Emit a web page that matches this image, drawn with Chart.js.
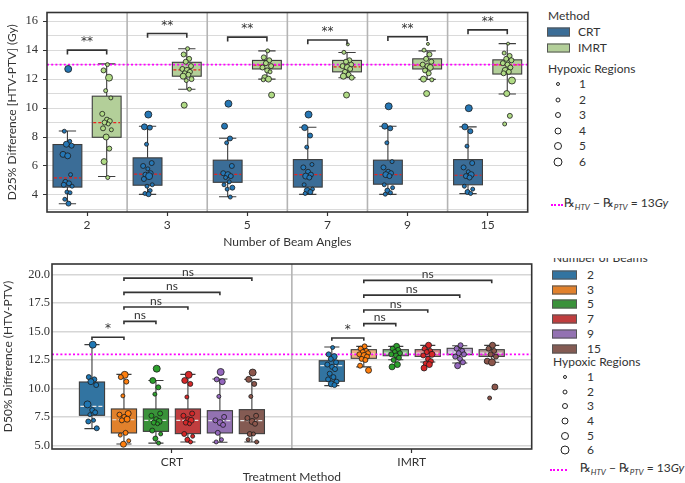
<!DOCTYPE html>
<html><head><meta charset="utf-8">
<script src="https://cdn.jsdelivr.net/npm/chart.js@4.4.1/dist/chart.umd.min.js"></script>
<style>
body{margin:0;background:#fff;width:685px;height:483px;overflow:hidden;position:relative;font-family:Lato,"DejaVu Sans",sans-serif;color:#333}
canvas{position:absolute}
.lg{position:absolute;font-size:12px;line-height:14px;white-space:nowrap;color:#333;transform:translateY(-50%)}
.patch{position:absolute;border:1px solid #555;box-sizing:border-box;transform:translateY(-50%)}
.dot{position:absolute;border:1.2px solid #222;border-radius:50%;box-sizing:border-box;background:#fff;transform:translate(-50%,-50%)}
.dl{position:absolute;height:0;border-top:2px dotted #ff00ff;transform:translateY(-50%)}
.clip{position:absolute;overflow:hidden}
</style></head>
<body>
<canvas id="c1" width="532" height="250" style="left:0;top:0"></canvas>
<canvas id="c2" width="536" height="233" style="left:0;top:250px"></canvas>
<div id="legend"></div>
<script>
// ---------- categories ----------
const BEAMS = ['2','3','5','7','9','15'];
const METHODS = ['CRT','IMRT'];
const HYPOXIC_LEVELS = [1,2,3,4,5,6];
const THRESHOLD_GY = 13;

// ---------- tick values ----------
const D25_GRID_TICKS = [3,4,5,6,7,8,9,10,11,12,13,14,15,16];
const D25_LABEL_TICKS = [4,6,8,10,12,14,16];
const D50_TICKS = [5,7.5,10,12.5,15,17.5,20];

// ---------- Panel A: D25% difference, box stats [low whisker, Q1, median, Q3, high whisker] ----------
const D25_CRT_BOX = [
  [3.39,4.54,5.18,7.48,8.41],
  [4.04,4.67,5.44,6.56,8.74],
  [3.87,4.87,5.42,6.40,7.91],
  [4.04,4.54,5.40,6.44,8.67],
  [4.04,4.74,5.40,6.40,8.74],
  [4.09,4.70,5.36,6.44,8.70]];
const D25_IMRT_BOX = [
  [5.27,7.98,9.00,10.82,13.05],
  [11.30,12.20,12.64,13.16,14.10],
  [12.00,12.70,12.96,13.29,13.95],
  [12.09,12.50,12.85,13.29,13.84],
  [11.98,12.70,12.96,13.40,13.95],
  [10.97,12.35,12.98,13.33,14.45]];
const D25_CRT_PTS = [
  [12.7,8.4,7.7,7.5,7.4,6.8,6.7,5.4,4.9,4.8,4.7,4.6,4.2,4.15,3.7,3.4],
  [9.55,8.7,8.65,7.5,6.2,6.0,5.8,5.5,5.4,5.3,5.1,4.7,4.6,4.3,4.1,4.05],
  [10.3,8.75,7.9,7.6,6.0,5.5,5.4,5.3,5.2,4.9,4.7,4.5,4.4,3.85],
  [9.55,8.65,8.1,7.3,6.1,5.9,5.6,5.4,5.3,5.2,4.7,4.4,4.3,4.2,4.1],
  [10.12,8.75,8.6,7.6,6.3,5.9,5.6,5.5,5.4,5.3,4.7,4.5,4.3,4.15,4.05],
  [9.99,8.7,8.4,7.37,6.2,5.9,5.6,5.4,5.3,5.2,4.6,4.4,4.2,4.1]];
const D25_CRT_HYP = [
  [5,2,2,4,3,4,4,2,3,3,3,2,2,2,2,3],
  [5,4,3,2,3,3,2,3,3,5,3,2,2,2,2,3],
  [5,4,3,2,3,3,4,3,2,2,2,3,2,2],
  [5,4,3,2,2,3,3,3,4,3,2,2,4,3,2],
  [5,4,3,2,2,3,3,3,4,3,2,2,3,2,2],
  [5,4,3,2,3,3,2,4,3,3,2,2,3,2]];
const D25_IMRT_PTS = [
  [13.0,12.6,12.1,11.2,10.7,9.6,9.2,9.1,9.0,8.9,8.6,8.5,8.0,7.2,6.3,5.2],
  [14.1,13.7,13.4,13.2,12.9,12.7,12.6,12.5,12.4,12.3,12.2,12.0,11.9,11.3,10.2],
  [13.95,13.5,13.3,13.1,12.9,12.8,12.6,12.5,12.1,12.0,11.95,10.9],
  [14.4,13.85,13.3,13.2,13.0,12.9,12.8,12.7,12.5,12.3,12.2,12.1,10.9],
  [14.43,14.0,13.7,13.4,13.2,13.0,12.9,12.8,12.6,12.4,12.0,11.95,11.0],
  [14.45,13.8,13.6,13.4,13.3,13.1,13.0,12.8,12.6,12.5,12.4,11.9,11.0,9.46,8.9]];
const D25_IMRT_HYP = [
  [2,3,5,2,2,3,3,3,3,2,3,2,4,3,4,2],
  [2,3,3,3,3,3,4,3,3,3,4,3,2,2,4],
  [2,3,3,3,3,3,3,2,4,4,2,4],
  [1,2,3,3,3,3,4,3,3,3,4,3,4],
  [1,2,3,3,3,3,3,4,3,3,4,2,4],
  [1,2,3,3,3,3,3,3,4,3,3,5,4,3,2]];
const D25_SIG = ['**','**','**','**','**','**'];
const D25_SIG_Y = [14.0,15.15,14.9,14.7,14.93,15.4];

// ---------- Panel B: D50% difference by number of beams ----------
const D50_CRT_BOX = [
  [6.47,7.64,8.43,10.57,13.85],
  [5.12,6.09,7.25,8.20,11.24],
  [5.20,6.23,7.20,8.20,10.70],
  [5.30,6.03,7.20,8.20,11.24],
  [5.27,6.09,7.17,8.05,10.83],
  [5.30,6.03,7.17,8.14,10.80]];
const D50_IMRT_BOX = [
  [10.25,10.63,12.00,12.44,13.64],
  [11.90,12.65,13.05,13.41,13.70],
  [12.53,12.88,13.10,13.41,13.70],
  [12.33,12.82,13.10,13.41,13.79],
  [12.24,12.97,13.20,13.53,13.76],
  [12.30,12.82,13.10,13.41,13.79]];
const D50_CRT_PTS = [
  [13.85,11.0,10.8,10.6,10.3,8.6,8.1,7.9,7.7,7.2,7.1,6.5],
  [11.2,11.0,10.6,9.35,7.8,7.7,7.5,7.3,7.2,6.1,5.9,5.4,5.1],
  [11.74,10.7,10.1,9.5,7.8,7.6,7.3,7.1,7.0,6.9,6.3,6.0,5.6,5.2],
  [11.2,10.7,10.4,9.25,7.8,7.6,7.3,7.2,7.0,6.9,6.0,5.8,5.5,5.3],
  [11.45,10.8,10.6,9.3,7.5,7.2,7.0,6.8,6.1,5.5,5.3],
  [11.4,10.8,10.4,9.3,7.6,7.4,7.1,6.9,6.0,6.0,5.5,5.3]];
const D50_CRT_HYP = [
  [5,3,3,4,3,5,3,3,2,2,3,3],
  [5,3,3,2,4,3,3,4,3,3,2,2,4],
  [5,4,3,2,3,3,3,4,3,2,3,2,3,2],
  [5,4,3,2,3,3,3,4,3,2,3,2,3,2],
  [5,3,4,2,3,3,4,3,3,2,2],
  [5,4,3,2,3,3,4,3,3,2,2,2]];
const D50_IMRT_PTS = [
  [13.6,13.0,12.8,12.6,12.3,12.1,11.9,11.7,11.3,11.0,10.8,10.6,10.4,10.3],
  [13.7,13.5,13.3,13.2,13.1,13.0,12.9,12.8,12.6,12.5,12.0,11.6],
  [13.7,13.5,13.4,13.2,13.1,13.0,12.9,12.7,12.5,12.1,11.9],
  [13.8,13.5,13.3,13.2,13.0,12.9,12.6,12.4,12.2,12.1,11.8],
  [13.8,13.5,13.3,13.1,13.0,12.8,12.6,12.3,12.0],
  [13.8,13.5,13.3,13.0,12.8,12.4,12.3,10.13,9.16]];
const D50_IMRT_HYP = [
  [2,3,4,3,3,3,3,3,3,3,3,3,4,3],
  [3,3,3,3,3,3,4,3,3,3,3,4],
  [4,3,3,3,3,3,3,3,3,4,4],
  [4,3,3,3,4,3,3,3,3,4,4],
  [3,3,3,3,3,3,3,3,4],
  [4,3,3,3,3,4,5,4,2]];
const D50_PAIRS = [[0,1],[1,2],[1,3],[1,4],[1,5]];
const D50_SIG = ['*','ns','ns','ns','ns'];
const D50_CRT_SIG_Y = [14.5,15.9,17.16,18.45,19.7];
const D50_IMRT_SIG_Y = [14.44,15.7,16.9,18.2,19.5];

// ---------- styles ----------
const TOP_BOX_COLORS = ['#3b6d97','#b3cf99'];
const TOP_PT_COLORS = ['#2677b5','#b0db85'];
const BEAM_BOX_COLORS = ['#3274a1','#e1812c','#3a923a','#c03d3e','#9372b2','#845b53'];
const BEAM_BOX_LIGHT = ['#3274a1','#edb380','#89be89','#d98b8b','#beaad1','#b59d98'];
const BEAM_PT_COLORS = ['#1f77b4','#ff7f0e','#2ca02c','#d62728','#9467bd','#8c564b'];
const JITTER = [0.15,-0.6,0.45,-0.2,0.8,-0.85,0.05,0.6,-0.4,0.3,-0.7,0.9,-0.1,0.5,-0.5,0.2];
const SANS = 'Lato, "DejaVu Sans", sans-serif';
const STAR_FONT = '"DejaVu Sans", sans-serif';
const SERIF = '"Liberation Serif", "DejaVu Serif", serif';
const radiusFor = n => 1.5 + 0.5*(n-1);

Chart.defaults.font.family = SANS;
Chart.defaults.color = '#333';

function pointDataset(values, hyp, center, spread, color){
  const r = hyp.map(radiusFor);
  return {
    type:'scatter',
    data: values.map((v,i)=>({x:center + JITTER[i%JITTER.length]*spread, y:v})),
    pointRadius:r, pointHoverRadius:r,
    backgroundColor:color, borderColor:'#1c1c1c', borderWidth:0.8
  };
}

function boxPlugin(cfg){
  return {
    id:'boxes',
    beforeDatasetsDraw(chart){
      const {ctx, chartArea:a, scales:{x,y}} = chart;
      ctx.save();
      ctx.strokeStyle = '#b4b4b4'; ctx.lineWidth = 1.6;
      cfg.separators.forEach(v=>{
        const px = x.getPixelForValue(v);
        ctx.beginPath(); ctx.moveTo(px,a.top); ctx.lineTo(px,a.bottom); ctx.stroke();
      });
      cfg.boxes.forEach(b=>{
        const [lo,q1,md,q3,hi] = b.stats;
        const l = x.getPixelForValue(b.x - b.w/2), r = x.getPixelForValue(b.x + b.w/2);
        const c = x.getPixelForValue(b.x), cw = (r-l)*0.3;
        ctx.setLineDash([]);
        ctx.strokeStyle = '#3d3d3d'; ctx.lineWidth = 1.1;
        ctx.beginPath();
        ctx.moveTo(c, y.getPixelForValue(lo)); ctx.lineTo(c, y.getPixelForValue(q1));
        ctx.moveTo(c, y.getPixelForValue(q3)); ctx.lineTo(c, y.getPixelForValue(hi));
        ctx.moveTo(c-cw, y.getPixelForValue(lo)); ctx.lineTo(c+cw, y.getPixelForValue(lo));
        ctx.moveTo(c-cw, y.getPixelForValue(hi)); ctx.lineTo(c+cw, y.getPixelForValue(hi));
        ctx.stroke();
        const t = y.getPixelForValue(q3), bt = y.getPixelForValue(q1);
        ctx.fillStyle = b.fill;
        ctx.fillRect(l, t, r-l, bt-t);
        ctx.strokeRect(l, t, r-l, bt-t);
        ctx.strokeStyle = cfg.medianColor; ctx.lineWidth = 1.2; ctx.setLineDash(cfg.medianDash);
        const m = y.getPixelForValue(md);
        ctx.beginPath(); ctx.moveTo(l+1, m); ctx.lineTo(r-1, m); ctx.stroke();
      });
      ctx.strokeStyle = '#ff00ff'; ctx.lineWidth = 1.6; ctx.setLineDash([2,2.2]);
      const ty = y.getPixelForValue(THRESHOLD_GY);
      ctx.beginPath(); ctx.moveTo(a.left, ty); ctx.lineTo(a.right, ty); ctx.stroke();
      ctx.restore();
    },
    afterDatasetsDraw(chart){
      const {ctx, chartArea:a, scales:{x,y}} = chart;
      ctx.save();
      ctx.strokeStyle = '#333'; ctx.lineWidth = 1.6; ctx.setLineDash([]);
      ctx.fillStyle = '#333'; ctx.textAlign = 'center'; ctx.textBaseline = 'bottom';
      cfg.brackets.forEach(br=>{
        const x1 = x.getPixelForValue(br.x1), x2 = x.getPixelForValue(br.x2);
        const yy = y.getPixelForValue(br.y), yl = y.getPixelForValue(br.y - br.leg);
        ctx.beginPath(); ctx.moveTo(x1,yl); ctx.lineTo(x1,yy); ctx.lineTo(x2,yy); ctx.lineTo(x2,yl); ctx.stroke();
        ctx.font = br.font;
        ctx.fillText(br.text, (x1+x2)/2, yy - br.gap);
      });
      ctx.strokeStyle = '#333'; ctx.lineWidth = 1.6;
      ctx.strokeRect(a.left, a.top, a.right-a.left, a.bottom-a.top);
      ctx.restore();
    }
  };
}

const inList = (v,list) => list.some(t => Math.abs(t-v) < 1e-6);

// ---------- Panel A ----------
(function(){
  const boxes = [], datasets = [], brackets = [];
  BEAMS.forEach((b,g)=>{
    const xc = [g-0.245, g+0.245];
    boxes.push({x:xc[0], w:0.36, stats:D25_CRT_BOX[g], fill:TOP_BOX_COLORS[0]});
    boxes.push({x:xc[1], w:0.36, stats:D25_IMRT_BOX[g], fill:TOP_BOX_COLORS[1]});
    datasets.push(pointDataset(D25_CRT_PTS[g], D25_CRT_HYP[g], xc[0], 0.065, TOP_PT_COLORS[0]));
    datasets.push(pointDataset(D25_IMRT_PTS[g], D25_IMRT_HYP[g], xc[1], 0.065, TOP_PT_COLORS[1]));
    brackets.push({x1:xc[0], x2:xc[1], y:D25_SIG_Y[g], leg:0.3, text:D25_SIG[g], gap:2, font:'12px ' + STAR_FONT});
  });
  new Chart(document.getElementById('c1'), {
    type:'scatter',
    data:{datasets},
    options:{
      responsive:false, animation:false, devicePixelRatio:1,
      layout:{padding:{top:2,right:4,left:0,bottom:0}},
      plugins:{legend:{display:false}, tooltip:{enabled:false}},
      scales:{
        x:{type:'linear', min:-0.5, max:5.5,
           afterBuildTicks:s=>{s.ticks = BEAMS.map((_,i)=>({value:i}));},
           afterFit:s=>{s.height = 38;},
           ticks:{callback:v=>BEAMS[v], font:{family:SANS,size:12}, padding:2, color:'#333', autoSkip:false, maxRotation:0},
           grid:{drawOnChartArea:false, tickLength:4, tickColor:'#333', tickWidth:1.2},
           border:{display:false},
           title:{display:true, text:'Number of Beam Angles', font:{family:SANS,size:12,lineHeight:1.2}, padding:{top:0,bottom:1}, color:'#333'}},
        y:{type:'linear', min:2.82, max:16.6,
           afterBuildTicks:s=>{s.ticks = D25_GRID_TICKS.map(v=>({value:v}));},
           afterFit:s=>{s.width = 47;},
           ticks:{autoSkip:false, callback:v=> inList(v,D25_LABEL_TICKS) ? String(v) : '', font:{family:SERIF,size:12.5}, padding:5, color:'#333'},
           grid:{color:'#dadada', lineWidth:1, tickLength:4, tickColor:c=> inList(c.tick.value,D25_LABEL_TICKS) ? '#333' : 'rgba(0,0,0,0)'},
           border:{display:false},
           title:{display:true, text:'D25% Difference [HTV-PTV] (Gy)', font:{family:SANS,size:12,lineHeight:1.2}, padding:{top:5,bottom:0}, color:'#333'}}
      }
    },
    plugins:[boxPlugin({separators:[0.5,1.5,2.5,3.5,4.5], boxes, brackets, medianColor:'#e8221e', medianDash:[3,2]})]
  });
})();

// ---------- Panel B ----------
(function(){
  const boxes = [], datasets = [], brackets = [];
  const step = 0.8/6;
  const cx = (m,k) => m + (k-2.5)*step;
  BEAMS.forEach((b,k)=>{
    boxes.push({x:cx(0,k), w:0.105, stats:D50_CRT_BOX[k], fill:BEAM_BOX_COLORS[k]});
    boxes.push({x:cx(1,k), w:0.105, stats:D50_IMRT_BOX[k], fill:BEAM_BOX_LIGHT[k]});
    datasets.push(pointDataset(D50_CRT_PTS[k], D50_CRT_HYP[k], cx(0,k), 0.022, BEAM_PT_COLORS[k]));
    datasets.push(pointDataset(D50_IMRT_PTS[k], D50_IMRT_HYP[k], cx(1,k), 0.022, BEAM_PT_COLORS[k]));
  });
  D50_PAIRS.forEach((p,i)=>{
    const star = D50_SIG[i]==='*';
    const font = star ? '12px ' + STAR_FONT : '12px ' + SANS;
    brackets.push({x1:cx(0,p[0]), x2:cx(0,p[1]), y:D50_CRT_SIG_Y[i], leg:0.25, text:D50_SIG[i], gap: star?2:0, font});
    brackets.push({x1:cx(1,p[0]), x2:cx(1,p[1]), y:D50_IMRT_SIG_Y[i], leg:0.25, text:D50_SIG[i], gap: star?2:0, font});
  });
  new Chart(document.getElementById('c2'), {
    type:'scatter',
    data:{datasets},
    options:{
      responsive:false, animation:false, devicePixelRatio:1,
      layout:{padding:{top:14,right:4,left:0,bottom:0}},
      plugins:{legend:{display:false}, tooltip:{enabled:false}},
      scales:{
        x:{type:'linear', min:-0.5, max:1.5,
           afterBuildTicks:s=>{s.ticks = METHODS.map((_,i)=>({value:i}));},
           afterFit:s=>{s.height = 34;},
           ticks:{callback:v=>METHODS[v], font:{family:SANS,size:12}, padding:2, color:'#333', autoSkip:false, maxRotation:0},
           grid:{drawOnChartArea:false, tickLength:4, tickColor:'#333', tickWidth:1.2},
           border:{display:false},
           title:{display:true, text:'Treatment Method', font:{family:SANS,size:12,lineHeight:1}, padding:{top:0,bottom:0}, color:'#333'}},
        y:{type:'linear', min:4.68, max:20.94,
           afterBuildTicks:s=>{s.ticks = D50_TICKS.map(v=>({value:v}));},
           afterFit:s=>{s.width = 52;},
           ticks:{autoSkip:false, callback:v=> v.toFixed(1), font:{family:SERIF,size:12.5}, padding:2, color:'#333'},
           grid:{color:'#d6d6d6', lineWidth:1.4, drawTicks:false, tickLength:0},
           border:{display:false},
           title:{display:true, text:'D50% Difference (HTV-PTV)', font:{family:SANS,size:12,lineHeight:1.2}, padding:{top:1,bottom:0}, color:'#333'}}
      }
    },
    plugins:[boxPlugin({separators:[0.5], boxes, brackets, medianColor:'#e6e6e6', medianDash:[4,2]})]
  });
})();

// ---------- HTML legends ----------
(function(){
  const L = document.getElementById('legend');
  const add = (cls, style, text) => { const d = document.createElement('div'); d.className = cls; Object.assign(d.style, style); if (text !== undefined) d.innerHTML = text; L.appendChild(d); return d; };
  const eqn = '℞<sub style="font-size:8px;font-style:italic">HTV</sub> − ℞<sub style="font-size:8px;font-style:italic">PTV</sub> = 13<i>Gy</i>';
  add('lg', {left:'548px', top:'16px'}, 'Method');
  METHODS.forEach((m,i)=>{
    const yc = 32 + i*15.5;
    add('patch', {left:'547px', top:yc+'px', width:'23px', height:'9px', background:TOP_BOX_COLORS[i]});
    add('lg', {left:'578px', top:yc+'px'}, m);
  });
  add('lg', {left:'548px', top:'69px'}, 'Hypoxic Regions');
  HYPOXIC_LEVELS.forEach((h,i)=>{
    const yc = 84.3 + i*15.5, d = 2*radiusFor(h)+1;
    add('dot', {left:'558px', top:yc+'px', width:d+'px', height:d+'px'});
    add('lg', {left:'579px', top:yc+'px'}, String(h));
  });
  add('dl', {left:'551px', top:'205px', width:'12px'});
  add('lg', {left:'564px', top:'205px'}, eqn);
  const clip = add('clip', {left:'553px', top:'258px', width:'120px', height:'10px'});
  const t = document.createElement('div'); t.className = 'lg'; t.style.left = '0px'; t.style.top = '0px'; t.textContent = 'Number of Beams'; clip.appendChild(t);
  BEAMS.forEach((b,i)=>{
    const yc = 275 + i*14.7;
    add('patch', {left:'552px', top:yc+'px', width:'25px', height:'9px', background:BEAM_BOX_COLORS[i]});
    add('lg', {left:'587px', top:yc+'px'}, b);
  });
  add('lg', {left:'553px', top:'362px'}, 'Hypoxic Regions');
  HYPOXIC_LEVELS.forEach((h,i)=>{
    const yc = 377 + i*14.65, d = 2*radiusFor(h)+1;
    add('dot', {left:'565px', top:yc+'px', width:d+'px', height:d+'px'});
    add('lg', {left:'587px', top:yc+'px'}, String(h));
  });
  add('dl', {left:'550px', top:'470px', width:'17px'});
  add('lg', {left:'580px', top:'470px'}, eqn);
})();
</script>
</body></html>
